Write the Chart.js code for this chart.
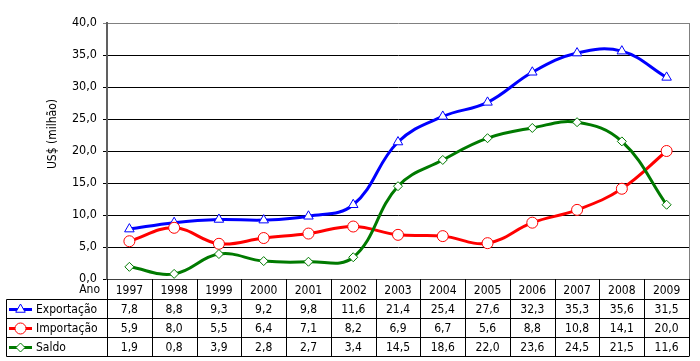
<!DOCTYPE html>
<html><head><meta charset="utf-8">
<script src="https://cdn.jsdelivr.net/npm/chart.js@4/dist/chart.umd.min.js"></script>
<style>html,body{margin:0;padding:0;background:#fff}#wrap{width:700px;height:361px;position:relative}</style>
</head><body><div id="wrap"><canvas id="c" width="700" height="361"></canvas></div>
<script>
const years = ['1997','1998','1999','2000','2001','2002','2003','2004','2005','2006','2007','2008','2009'];
const exportacao = [7.8, 8.8, 9.3, 9.2, 9.8, 11.6, 21.4, 25.4, 27.6, 32.3, 35.3, 35.6, 31.5];
const importacao = [5.9, 8.0, 5.5, 6.4, 7.1, 8.2, 6.9, 6.7, 5.6, 8.8, 10.8, 14.1, 20.0];
const saldo = [1.9, 0.8, 3.9, 2.8, 2.7, 3.4, 14.5, 18.6, 22.0, 23.6, 24.5, 21.5, 11.6];
const seriesNames = ['Exportação', 'Importação', 'Saldo'];
const yTitle = 'US$ (milhão)';
const headerLabel = 'Ano';

const FONT = '"DejaVu Sans Condensed","DejaVu Sans",sans-serif';
const fmt = v => v.toFixed(1).replace('.', ',');

const tablePlugin = {
  id: 'dataTable',
  afterDraw(chart) {
    const ctx = chart.ctx;
    const xs = chart.scales.x;
    const a = chart.chartArea;
    const colW = xs.getPixelForValue(1) - xs.getPixelForValue(0);
    const left = a.left, right = a.right;
    const top = a.bottom;
    const headerBottom = top + 20;
    const rowH = 19;
    const boxLeft = 6;
    const bottom = headerBottom + rowH * 3;
    ctx.save();
    // y axis title
    ctx.save();
    ctx.translate(53, 134);
    ctx.rotate(-Math.PI / 2);
    ctx.fillStyle = '#000';
    ctx.font = '12px ' + FONT;
    ctx.textAlign = 'center';
    ctx.textBaseline = 'middle';
    ctx.fillText(yTitle, 0, 0);
    ctx.restore();

    ctx.strokeStyle = '#000';
    ctx.lineWidth = 1;
    ctx.beginPath();
    for (let i = 0; i <= years.length; i++) {
      const x = Math.round(left + i * colW) + 0.5;
      ctx.moveTo(x, top);
      ctx.lineTo(x, bottom);
    }
    for (let r = 0; r <= 3; r++) {
      const y = Math.round(headerBottom + r * rowH) + 0.5;
      ctx.moveTo(boxLeft + 0.5, y);
      ctx.lineTo(Math.round(right) + 0.5, y);
    }
    ctx.moveTo(boxLeft + 0.5, headerBottom + 0.5);
    ctx.lineTo(boxLeft + 0.5, bottom + 0.5);
    ctx.stroke();
    ctx.strokeStyle = '#808080';
    ctx.beginPath();
    ctx.moveTo(Math.round(right) + 0.5, a.top);
    ctx.lineTo(Math.round(right) + 0.5, top);
    ctx.stroke();

    ctx.fillStyle = '#000';
    ctx.font = '12px ' + FONT;
    ctx.textBaseline = 'middle';
    ctx.textAlign = 'right';
    ctx.fillText(headerLabel, left - 7, (top + headerBottom) / 2 + 1);
    ctx.textAlign = 'center';
    years.forEach((y, i) => {
      ctx.fillText(y, xs.getPixelForValue(i), (top + headerBottom) / 2 + 2);
    });
    const allData = [exportacao, importacao, saldo];
    chart.data.datasets.forEach((ds, r) => {
      const cy = headerBottom + r * rowH + rowH / 2 + 1;
      ctx.strokeStyle = ds.borderColor;
      ctx.lineWidth = 3;
      ctx.beginPath();
      ctx.moveTo(9, cy);
      ctx.lineTo(32, cy);
      ctx.stroke();
      ctx.fillStyle = '#fff';
      ctx.strokeStyle = ds.borderColor;
      ctx.lineWidth = 1;
      Chart.helpers.drawPoint(ctx, {pointStyle: ds.pointStyle, radius: ds.pointRadius, rotation: 0, borderWidth: 1}, 20.5, cy);
      ctx.fillStyle = '#000';
      ctx.textAlign = 'left';
      ctx.fillText(seriesNames[r], 36, cy);
      ctx.textAlign = 'center';
      allData[r].forEach((v, i) => {
        ctx.fillText(fmt(v), xs.getPixelForValue(i), cy);
      });
    });
    ctx.restore();
  }
};

new Chart(document.getElementById('c'), {
  type: 'line',
  data: {
    labels: years,
    datasets: [
      {label: seriesNames[0], data: exportacao, borderColor: '#0000ff', backgroundColor: '#fff',
       pointStyle: 'triangle', pointRadius: 5.5, pointBorderWidth: 1, pointBackgroundColor: '#fff', borderWidth: 3, tension: 0.4, order: 3},
      {label: seriesNames[1], data: importacao, borderColor: '#ff0000', backgroundColor: '#fff',
       pointStyle: 'circle', pointRadius: 5.5, pointBorderWidth: 1, pointBackgroundColor: '#fff', borderWidth: 3, tension: 0.4, order: 2},
      {label: seriesNames[2], data: saldo, borderColor: '#007a00', backgroundColor: '#fff',
       pointStyle: 'rectRot', pointRadius: 4.5, pointBorderWidth: 1, pointBackgroundColor: '#fff', borderWidth: 3, tension: 0.4, order: 1}
    ]
  },
  options: {
    responsive: false,
    animation: false,
    devicePixelRatio: 1,
    layout: {padding: {left: 0, right: 11, top: 23, bottom: 82}},
    plugins: {legend: {display: false}, tooltip: {enabled: false}},
    scales: {
      x: {
        type: 'category',
        offset: true,
        grid: {display: false},
        ticks: {display: false},
        border: {display: true, color: '#404040', width: 1},
        afterFit(s) { s.height = 0; }
      },
      y: {
        min: 0, max: 40,
        ticks: {stepSize: 5, color: '#000', padding: 6, font: {family: FONT, size: 12.5},
          callback: v => fmt(v)},
        grid: {color: ctx => (ctx.tick && ctx.tick.value === 40) ? '#808080' : '#000', lineWidth: 1, tickLength: 4, drawTicks: true},
        border: {display: true, color: '#606060', width: 2},
        afterFit(s) { s.width = 107; }
      }
    }
  },
  plugins: [tablePlugin]
});
</script></body></html>
